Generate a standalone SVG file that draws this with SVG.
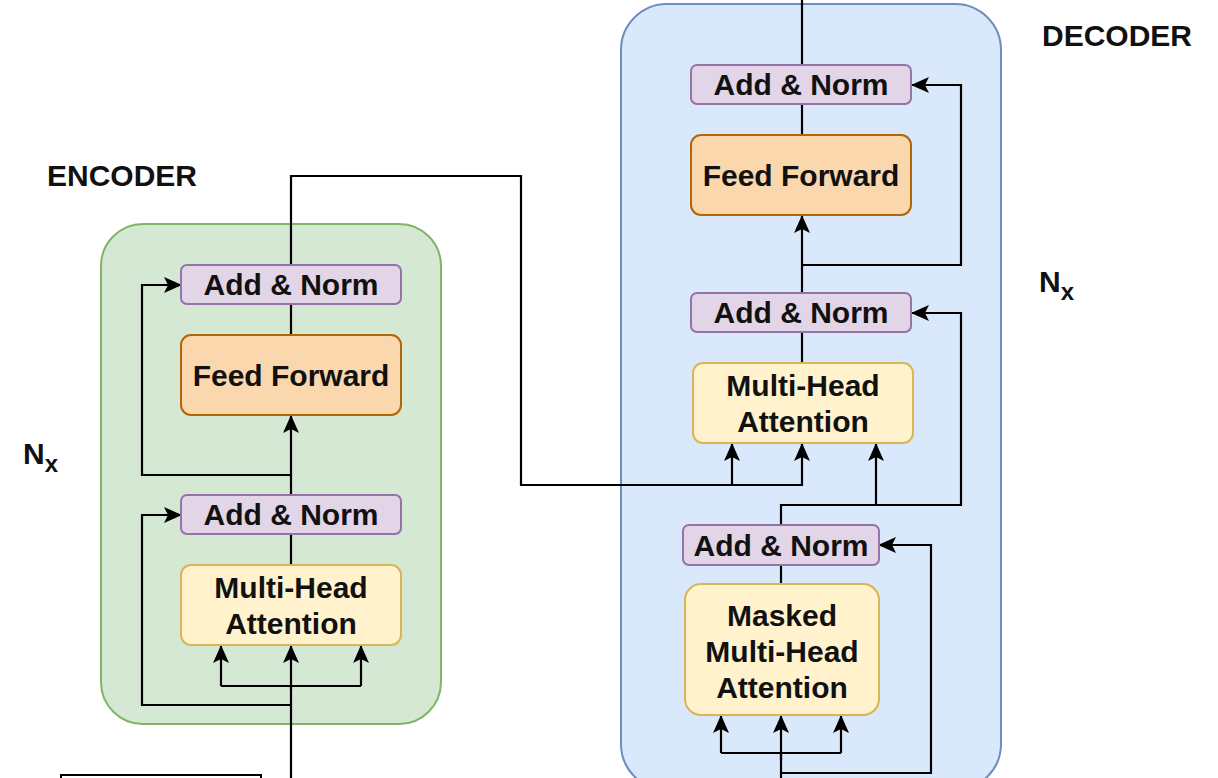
<svg xmlns="http://www.w3.org/2000/svg" width="1218" height="778" viewBox="0 0 1218 778">
<defs>
<marker id="arr" markerUnits="userSpaceOnUse" markerWidth="18" markerHeight="16" refX="17" refY="8" orient="auto" overflow="visible">
<path d="M0,0 L18,8 L0,16 L4,8 Z" fill="#000"/>
</marker>
<style>
text{font-family:"Liberation Sans",Arial,sans-serif;font-weight:bold;font-size:30px;fill:#111;}
.c{text-anchor:middle;}
.norm{fill:#e1d5e7;stroke:#9673a6;stroke-width:2;}
.ff{fill:#fad7ac;stroke:#b46504;stroke-width:2;}
.mha{fill:#fff2cc;stroke:#d6b656;stroke-width:2;}
.ln{fill:none;stroke:#000;stroke-width:2.2;}
.ar{fill:none;stroke:#000;stroke-width:2.2;marker-end:url(#arr);}
</style>
</defs>
<rect width="1218" height="778" fill="#fff"/>

<g id="encoder-container">
<rect x="101" y="224" width="340" height="500" rx="42" fill="#d5e8d4" stroke="#82b366" stroke-width="2"/>
</g>
<g id="decoder-container">
<rect x="621" y="4" width="380" height="786" rx="46" fill="#dae8fc" stroke="#6c8ebf" stroke-width="2"/>
</g>

<g id="labels">
<text x="47" y="186">ENCODER</text>
<text x="1042" y="46">DECODER</text>
<text x="23" y="464">N<tspan font-size="24" dy="8">x</tspan></text>
<text x="1039" y="292">N<tspan font-size="24" dy="8">x</tspan></text>
</g>

<g id="input-box">
<rect x="61" y="775" width="200" height="20" fill="none" stroke="#000" stroke-width="2"/>
</g>

<g id="connectors">
<!-- encoder -->
<path class="ln" d="M291,778 V686"/>
<path class="ar" d="M291,690 V646"/>
<path class="ln" d="M221,686 H361"/>
<path class="ar" d="M221,686 V646"/>
<path class="ar" d="M361,686 V646"/>
<path class="ar" d="M291,705 H142 V515 H181"/>
<path class="ln" d="M291,565 V534"/>
<path class="ar" d="M291,495 V416"/>
<path class="ar" d="M291,475 H142 V285 H181"/>
<path class="ln" d="M291,335 V304"/>
<!-- encoder to decoder -->
<path class="ar" d="M291,265 V176 H521 V485 H802 V444"/>
<path class="ar" d="M732,485 V444"/>
<!-- decoder -->
<path class="ln" d="M781,778 V753"/>
<path class="ar" d="M781,760 V716"/>
<path class="ln" d="M721,753 H841"/>
<path class="ar" d="M721,753 V716"/>
<path class="ar" d="M841,753 V716"/>
<path class="ar" d="M781,773 H931 V545 H879"/>
<path class="ln" d="M781,584 V565"/>
<path class="ar" d="M781,525 V505 H876 V444"/>
<path class="ar" d="M876,505 H961 V313 H912"/>
<path class="ln" d="M802,363 V332"/>
<path class="ar" d="M802,293 V216"/>
<path class="ar" d="M802,265 H961 V85 H912"/>
<path class="ln" d="M802,135 V104"/>
<path class="ln" d="M802,65 V0"/>
</g>

<g id="enc-addnorm-top">
<rect class="norm" x="181" y="265" width="220" height="39" rx="6"/>
<text class="c" x="291" y="295">Add &amp; Norm</text>
</g>
<g id="enc-feedforward">
<rect class="ff" x="181" y="335" width="220" height="80" rx="10"/>
<text class="c" x="291" y="386">Feed Forward</text>
</g>
<g id="enc-addnorm-bottom">
<rect class="norm" x="181" y="495" width="220" height="39" rx="6"/>
<text class="c" x="291" y="525">Add &amp; Norm</text>
</g>
<g id="enc-mha">
<rect class="mha" x="181" y="565" width="220" height="80" rx="10"/>
<text class="c" x="291" y="598">Multi-Head</text>
<text class="c" x="291" y="634">Attention</text>
</g>

<g id="dec-addnorm-top">
<rect class="norm" x="691" y="65" width="220" height="39" rx="6"/>
<text class="c" x="801" y="95">Add &amp; Norm</text>
</g>
<g id="dec-feedforward">
<rect class="ff" x="691" y="135" width="220" height="80" rx="10"/>
<text class="c" x="801" y="186">Feed Forward</text>
</g>
<g id="dec-addnorm-mid">
<rect class="norm" x="691" y="293" width="220" height="39" rx="6"/>
<text class="c" x="801" y="323">Add &amp; Norm</text>
</g>
<g id="dec-mha">
<rect class="mha" x="693" y="363" width="220" height="80" rx="10"/>
<text class="c" x="803" y="396">Multi-Head</text>
<text class="c" x="803" y="432">Attention</text>
</g>
<g id="dec-addnorm-low">
<rect class="norm" x="683" y="525" width="196" height="40" rx="6"/>
<text class="c" x="781" y="556">Add &amp; Norm</text>
</g>
<g id="dec-masked-mha">
<rect class="mha" x="685" y="584" width="194" height="131" rx="16"/>
<text class="c" x="782" y="626">Masked</text>
<text class="c" x="782" y="662">Multi-Head</text>
<text class="c" x="782" y="698">Attention</text>
</g>
</svg>
